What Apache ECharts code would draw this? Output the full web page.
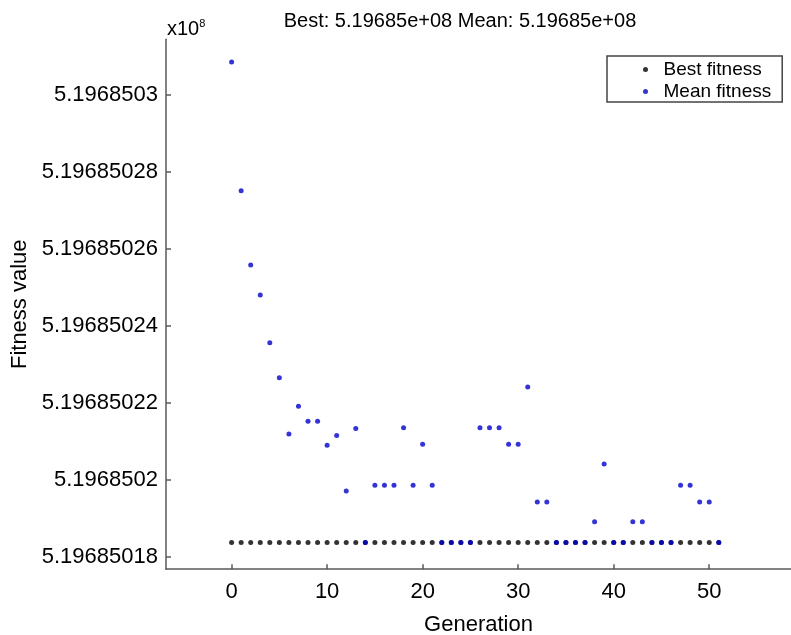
<!DOCTYPE html>
<html>
<head>
<meta charset="utf-8">
<script src="https://cdn.jsdelivr.net/npm/echarts@6/dist/echarts.min.js"></script>
<style>
html,body{margin:0;padding:0;background:#fff;}
#chart{width:791px;height:635px;}
</style>
</head>
<body>
<div id="chart"></div>
<script>
// ---- data ----
const generations = [0,1,2,3,4,5,6,7,8,9,10,11,12,13,14,15,16,17,18,19,20,21,22,23,24,25,26,27,28,29,30,31,32,33,34,35,36,37,38,39,40,41,42,43,44,45,46,47,48,49,50,51];
const bestFitness = [
  519685018.37,519685018.37,519685018.37,519685018.37,519685018.37,519685018.37,519685018.37,519685018.37,519685018.37,519685018.37,
  519685018.37,519685018.37,519685018.37,519685018.37,519685018.37,519685018.37,519685018.37,519685018.37,519685018.37,519685018.37,
  519685018.37,519685018.37,519685018.37,519685018.37,519685018.37,519685018.37,519685018.37,519685018.37,519685018.37,519685018.37,
  519685018.37,519685018.37,519685018.37,519685018.37,519685018.37,519685018.37,519685018.37,519685018.37,519685018.37,519685018.37,
  519685018.37,519685018.37,519685018.37,519685018.37,519685018.37,519685018.37,519685018.37,519685018.37,519685018.37,519685018.37,
  519685018.37,519685018.37
];
const meanFitness = [
  519685030.86,519685027.51,519685025.58,519685024.80,519685023.56,519685022.65,519685021.19,519685021.91,519685021.52,519685021.52,
  519685020.90,519685021.15,519685019.71,519685021.33,519685018.37,519685019.86,519685019.86,519685019.86,519685021.35,519685019.86,
  519685020.92,519685019.86,519685018.37,519685018.37,519685018.37,519685018.37,519685021.35,519685021.35,519685021.35,519685020.92,
  519685020.92,519685022.41,519685019.42,519685019.42,519685018.37,519685018.37,519685018.37,519685018.37,519685018.91,519685020.41,
  519685018.37,519685018.37,519685018.91,519685018.91,519685018.37,519685018.37,519685018.37,519685019.86,519685019.86,519685019.42,
  519685019.42,519685018.37
];
const yTickValues = [519685018,519685020,519685022,519685024,519685026,519685028,519685030];
const yTickLabels = ["5.19685018","5.1968502","5.19685022","5.19685024","5.19685026","5.19685028","5.1968503"];
const xTickValues = [0,10,20,30,40,50];
const xTickLabels = ["0","10","20","30","40","50"];
const titleText = "Best: 5.19685e+08 Mean: 5.19685e+08";

// ---- chart ----
const chart = echarts.init(document.getElementById('chart'), null, {renderer:'canvas'});
const FONT = 'Liberation Sans, Arial, sans-serif';
const axisGray = '#5a5a5a';

const bestData = generations.map((g,i)=>[g, bestFitness[i]]);
const meanData = generations.map((g,i)=>[g, meanFitness[i]]);

chart.setOption({
  animation:false,
  backgroundColor:'#ffffff',
  textStyle:{fontFamily:FONT},
  grid:{left:166, right:0, top:39.3, bottom:65.8, containLabel:false, outerBoundsMode:'none'},
  graphic:[
    {type:'text', x:460, y:21, style:{text:titleText, font:'20px '+FONT, fill:'#000', textAlign:'center', textVerticalAlign:'middle'}},
    {type:'text', x:167, y:29.5, style:{text:'x10{s|8}', fill:'#000', font:'20px '+FONT, textVerticalAlign:'middle',
      rich:{s:{fontSize:11, fontFamily:FONT, verticalAlign:'top', padding:[0,0,11,0]}}}}
  ],
  legend:{
    orient:'vertical', left:607, top:56,
    padding:[4,11,1,36], itemGap:3,
    itemWidth:26, itemHeight:5, itemStyle:{borderWidth:0},
    borderColor:'#444', borderWidth:1.5, backgroundColor:'#fff',
    textStyle:{fontSize:19, fontFamily:FONT, color:'#000', lineHeight:19},
    data:[{name:'Best fitness', icon:'circle'},{name:'Mean fitness', icon:'circle'}]
  },
  xAxis:{
    type:'value', min:-6.867, max:58.56,
    name:'Generation', nameLocation:'middle', nameGap:45,
    nameTextStyle:{fontSize:22, fontFamily:FONT, color:'#000'},
    axisLine:{show:true, onZero:false, lineStyle:{color:axisGray, width:1.5}},
    axisTick:{show:true, inside:true, length:5, customValues:xTickValues, lineStyle:{color:axisGray, width:1.5}},
    axisLabel:{show:true, margin:12, fontSize:22, fontFamily:FONT, color:'#000', customValues:xTickValues,
      formatter:(v)=>{const i = xTickValues.indexOf(Math.round(v)); return i>=0 ? xTickLabels[i] : '';}},
    splitLine:{show:false}
  },
  yAxis:{
    type:'value', min:519685017.675, max:519685031.45, scale:true,
    name:'Fitness value', nameLocation:'middle', nameGap:127, nameRotate:90,
    nameTextStyle:{fontSize:22, fontFamily:FONT, color:'#000'},
    axisLine:{show:true, onZero:false, lineStyle:{color:axisGray, width:1.5}},
    axisTick:{show:true, inside:true, length:5, customValues:yTickValues, lineStyle:{color:axisGray, width:1.5}},
    axisLabel:{show:true, margin:8, fontSize:22, fontFamily:FONT, color:'#000', customValues:yTickValues,
      formatter:(v)=>{const i = yTickValues.indexOf(Math.round(v)); return i>=0 ? yTickLabels[i] : '';}},
    splitLine:{show:false}
  },
  series:[
    {name:'Best fitness', type:'scatter', data:bestData, symbol:'circle', symbolSize:5,
      itemStyle:{color:'#000000'}, z:2},
    {name:'Mean fitness', type:'scatter', data:meanData, symbol:'circle', symbolSize:5,
      itemStyle:{color:'#0000cc'}, z:3}
  ]
});
</script>
</body>
</html>
